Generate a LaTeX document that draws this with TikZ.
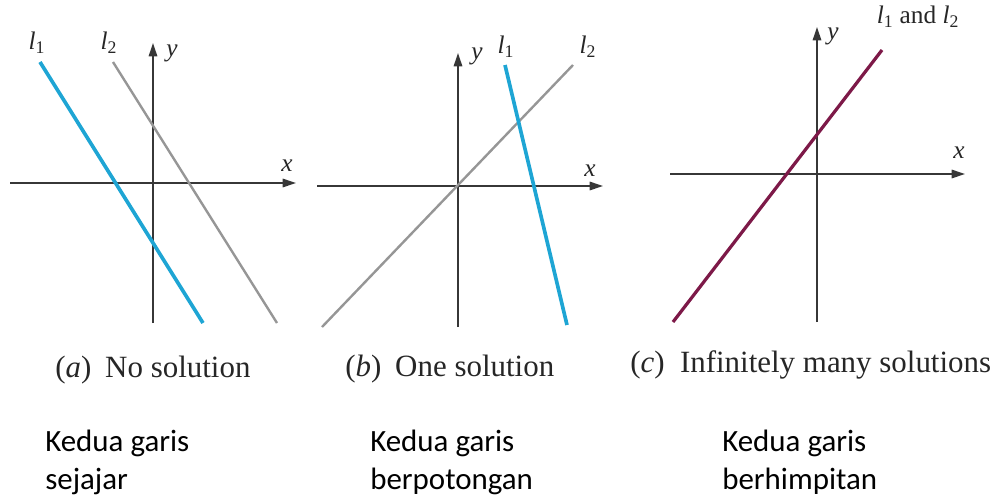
\documentclass[tikz,border=0pt]{standalone}
\usepackage{fontspec}
\setmainfont{Liberation Serif}
\newfontfamily\calibri{Carlito}
\usetikzlibrary{arrows.meta}
\definecolor{lineblue}{RGB}{30,165,212}
\definecolor{linegray}{RGB}{150,150,150}
\definecolor{linered}{RGB}{125,25,72}
\definecolor{axisgray}{RGB}{55,55,55}
\newcommand{\lsub}[1]{\textit{l}\textsubscript{#1}}

\begin{document}
\begin{tikzpicture}[x=0.025cm, y=-0.025cm,
  axis/.style={draw=axisgray, line width=1.3pt, -{Triangle[length=9.5pt,width=6pt]}},
  blueline/.style={draw=lineblue, line width=2.6pt},
  grayline/.style={draw=linegray, line width=1.7pt},
  redline/.style={draw=linered, line width=2.3pt},
  lab/.style={inner sep=0, text=black!85, font=\fontsize{18}{20}\selectfont},
  caption/.style={inner sep=0, anchor=base west, text=black!85, font=\fontsize{22}{26}\selectfont},
  note/.style={inner sep=0, anchor=north west, align=left, font=\calibri\fontsize{22}{27}\selectfont}
]
\useasboundingbox (0,0) rectangle (1007,502);

% (a) no solution
\coordinate (ax0) at (10,183);
\coordinate (ax1) at (296,183);
\coordinate (ay0) at (153,323);
\coordinate (ay1) at (153,43);
\coordinate (a1s) at (40,62);
\coordinate (a1e) at (203,323);
\coordinate (a2s) at (113,62);
\coordinate (a2e) at (277,323);
\draw[axis] (ax0) -- (ax1);
\draw[axis] (ay0) -- (ay1);
\draw[grayline] (a2s) -- (a2e);
\draw[blueline] (a1s) -- (a1e);
\node[lab] (al1) at (37,43) {\lsub{1}};
\node[lab] (al2) at (109,43) {\lsub{2}};
\node[lab] (ayl) at (172,53) {\textit{y}};
\node[lab] (axl) at (287,166) {\textit{x}};

% (b) one solution
\coordinate (bx0) at (317,186);
\coordinate (bx1) at (603,186);
\coordinate (by0) at (458,327);
\coordinate (by1) at (458,53);
\coordinate (b2s) at (322,327);
\coordinate (b2e) at (573,65);
\coordinate (b1s) at (505,65);
\coordinate (b1e) at (567,325);
\draw[axis] (bx0) -- (bx1);
\draw[axis] (by0) -- (by1);
\draw[grayline] (b2s) -- (b2e);
\draw[blueline] (b1s) -- (b1e);
\node[lab] (byl) at (477,56) {\textit{y}};
\node[lab] (bl1) at (506,47) {\lsub{1}};
\node[lab] (bl2) at (588,47) {\lsub{2}};
\node[lab] (bxl) at (590,171) {\textit{x}};

% (c) infinitely many
\coordinate (cx0) at (670,174);
\coordinate (cx1) at (965,174);
\coordinate (cy0) at (817,322);
\coordinate (cy1) at (817,27);
\coordinate (cls) at (673,322);
\coordinate (cle) at (882,50);
\draw[axis] (cx0) -- (cx1);
\draw[axis] (cy0) -- (cy1);
\draw[redline] (cls) -- (cle);
\node[lab] (cyl) at (833,36) {\textit{y}};
\node[lab] (cll) at (918,17) {\lsub{1} and \lsub{2}};
\node[lab] (cxl) at (959,153) {\textit{x}};

% captions
\node[caption] (capa) at (55,377) {(\textit{a})\hspace{0.45em}No solution};
\node[caption] (capb) at (345,376) {(\textit{b})\hspace{0.45em}One solution};
\node[caption] (capc) at (630,372) {(\textit{c})\hspace{0.5em}Infinitely many solutions};

\node[note] (nota) at (45,430) {Kedua garis\\sejajar};
\node[note] (notb) at (370,430) {Kedua garis\\berpotongan};
\node[note] (notc) at (722,430) {Kedua garis\\berhimpitan};
\end{tikzpicture}
\end{document}
